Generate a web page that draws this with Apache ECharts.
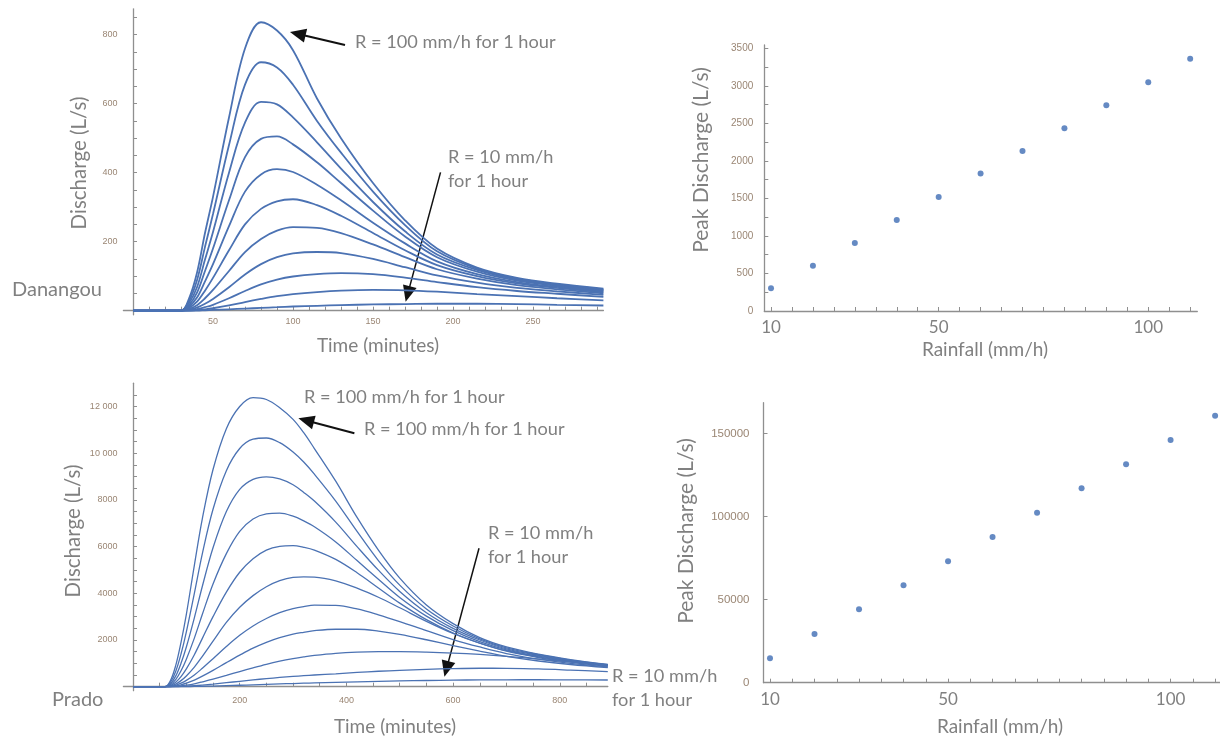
<!DOCTYPE html>
<html><head><meta charset="utf-8">
<script src="https://cdn.jsdelivr.net/npm/echarts@6/dist/echarts.min.js"></script>
<style>html,body{margin:0;padding:0;background:#fff}#c{width:1220px;height:736px}</style>
</head><body><div id="c"></div>
<script>
// ---------- DATA ----------
// Danangou hydrographs (time in minutes, discharge in L/s), largest event first
const TIME_DANANGOU = [0, 30, 35, 40, 45, 50, 60, 70, 80, 90, 100, 115, 130, 150, 170, 190, 215, 240, 265, 294];
const DANANGOU_C1  = [0, 0, 35, 110, 225, 330, 560, 760, 836, 812, 755, 615, 500, 370, 262, 180, 125, 95, 78, 64];
const DANANGOU_C2  = [0, 0, 28, 88, 185, 280, 480, 655, 720, 705, 655, 550, 458, 345, 248, 172, 122, 93, 76, 62];
const DANANGOU_C3  = [0, 0, 22, 68, 148, 228, 400, 545, 605, 598, 560, 488, 412, 315, 230, 163, 118, 90, 74, 60];
const DANANGOU_C4  = [0, 0, 16, 52, 115, 180, 320, 445, 498, 505, 482, 430, 370, 290, 215, 155, 113, 87, 72, 58];
const DANANGOU_C5  = [0, 0, 12, 38, 85, 135, 245, 345, 395, 410, 402, 365, 320, 255, 195, 143, 106, 83, 69, 56];
const DANANGOU_C6  = [0, 0, 8, 26, 58, 95, 175, 250, 295, 317, 323, 306, 275, 225, 175, 132, 100, 79, 66, 53];
const DANANGOU_C7  = [0, 0, 5, 16, 36, 60, 115, 170, 208, 232, 242, 240, 225, 192, 155, 120, 93, 74, 62, 50];
const DANANGOU_C8  = [0, 0, 3, 9, 20, 34, 68, 105, 135, 155, 166, 170, 167, 150, 126, 102, 81, 66, 56, 46];
const DANANGOU_C9  = [0, 0, 1, 4, 10, 17, 36, 57, 76, 90, 99, 106, 109, 106, 96, 83, 68, 57, 49, 40];
const DANANGOU_C10 = [0, 0, 0, 2, 4, 7, 15, 25, 34, 42, 48, 54, 58, 60, 59, 55, 48, 42, 36, 30];
const DANANGOU_C11 = [0, 0, 0, 0, 1, 2, 4, 6, 8, 10, 12, 14, 16, 18, 19, 20, 20, 19, 17, 15];

// Prado hydrographs
const TIME_PRADO = [0, 60, 70, 80, 90, 100, 115, 130, 150, 175, 200, 225, 250, 275, 300, 320, 340, 380, 420, 460, 500, 550, 600, 650, 700, 760, 820, 890];
const PRADO_C1  = [0, 0, 250, 900, 1900, 3100, 5200, 7200, 9300, 11050, 12000, 12380, 12300, 11950, 11450, 10880, 10200, 8800, 7250, 5850, 4650, 3500, 2700, 2100, 1700, 1390, 1160, 950];
const PRADO_C2  = [0, 0, 180, 650, 1400, 2350, 4000, 5700, 7600, 9250, 10200, 10600, 10650, 10450, 10050, 9620, 9100, 7950, 6650, 5400, 4350, 3330, 2600, 2050, 1660, 1370, 1140, 940];
const PRADO_C3  = [0, 0, 120, 450, 1000, 1700, 2950, 4300, 5950, 7500, 8450, 8880, 8990, 8900, 8650, 8320, 7950, 7050, 6000, 4990, 4080, 3170, 2500, 2000, 1620, 1340, 1120, 930];
const PRADO_C4  = [0, 0, 80, 300, 680, 1180, 2080, 3100, 4400, 5700, 6650, 7180, 7400, 7430, 7300, 7100, 6850, 6200, 5400, 4600, 3820, 3020, 2400, 1930, 1580, 1310, 1100, 910];
const PRADO_C5  = [0, 0, 50, 190, 430, 760, 1370, 2070, 3000, 4050, 4900, 5480, 5850, 6010, 6040, 5970, 5850, 5450, 4880, 4230, 3580, 2870, 2300, 1870, 1540, 1280, 1080, 900];
const PRADO_C6  = [0, 0, 30, 110, 260, 460, 840, 1300, 1950, 2750, 3400, 3900, 4280, 4540, 4680, 4700, 4690, 4530, 4220, 3830, 3380, 2800, 2280, 1860, 1520, 1250, 1050, 870];
const PRADO_C7  = [0, 0, 15, 60, 150, 270, 500, 790, 1200, 1720, 2200, 2600, 2920, 3170, 3340, 3430, 3490, 3480, 3330, 3080, 2790, 2400, 2020, 1700, 1420, 1180, 1000, 850];
const PRADO_C8  = [0, 0, 8, 30, 80, 150, 280, 450, 700, 1030, 1350, 1650, 1900, 2100, 2250, 2330, 2400, 2460, 2460, 2380, 2240, 2010, 1760, 1520, 1300, 1100, 950, 820];
const PRADO_C9  = [0, 0, 3, 12, 35, 65, 125, 205, 320, 480, 650, 810, 960, 1090, 1200, 1275, 1340, 1430, 1480, 1500, 1500, 1480, 1440, 1380, 1300, 1180, 1060, 930];
const PRADO_C10 = [0, 0, 1, 4, 10, 20, 40, 68, 110, 170, 230, 290, 345, 395, 440, 470, 500, 550, 610, 660, 700, 745, 775, 790, 785, 760, 710, 645];
const PRADO_C11 = [0, 0, 0, 1, 3, 5, 10, 17, 28, 45, 62, 80, 100, 118, 135, 148, 160, 185, 205, 225, 245, 265, 280, 290, 295, 296, 293, 287];

// Peak discharge vs rainfall
const RAINFALL = [10, 20, 30, 40, 50, 60, 70, 80, 90, 100, 110];
const PEAK_DANANGOU = [303, 604, 907, 1213, 1520, 1831, 2133, 2436, 2742, 3049, 3360];
const PEAK_PRADO = [14700, 29340, 44220, 58670, 73130, 87770, 102410, 117110, 131570, 146200, 160840];

// Tick labels
const DAN_TIME_LABELS = [50, 100, 150, 200, 250];
const DAN_Q_LABELS = [200, 400, 600, 800];
const PRADO_TIME_LABELS = [200, 400, 600, 800];
const PRADO_Q_LABELS = [2000, 4000, 6000, 8000, 10000, 12000];
const RAIN_LABELS = [10, 50, 100];
const PEAK_DAN_LABELS = [0, 500, 1000, 1500, 2000, 2500, 3000, 3500];
const PEAK_PRADO_LABELS = [0, 50000, 100000, 150000];

// Annotation arrows in data coordinates [tail, tip]
const ARROWS_DANANGOU = [[[132.5, 770], [98.1, 808]], [[192.2, 401], [170.4, 26]]];
const ARROWS_PRADO = [[[415, 10852], [310, 11495]], [[648.6, 5927], [583.7, 428]]];

// ---------- CHART ----------
function steps(a, b, s) { const r = []; for (let v = a; v <= b + 1e-9; v += s) r.push(+v.toFixed(6)); return r; }
function pairs(t, q) { return t.map((v, i) => [v, q[i]]); }

const LINE_COLOR = '#4b72b3';
const AXIS_COLOR = '#8f8f8f';
const TICK_LABEL_COLOR = '#9a8674';
const TITLE_COLOR = '#808080';
const FONT = 'Lato';

const danCurves = [DANANGOU_C1, DANANGOU_C2, DANANGOU_C3, DANANGOU_C4, DANANGOU_C5, DANANGOU_C6, DANANGOU_C7, DANANGOU_C8, DANANGOU_C9, DANANGOU_C10, DANANGOU_C11];
const pradoCurves = [PRADO_C1, PRADO_C2, PRADO_C3, PRADO_C4, PRADO_C5, PRADO_C6, PRADO_C7, PRADO_C8, PRADO_C9, PRADO_C10, PRADO_C11];

function valAxis(o) {
  return Object.assign({
    type: 'value', splitLine: { show: false },
    axisLine: { onZero: true, lineStyle: { color: AXIS_COLOR, width: 1.3 } },
    axisTick: { inside: true, length: 4, lineStyle: { color: AXIS_COLOR, width: 1 } },
    axisLabel: { color: TICK_LABEL_COLOR, fontSize: 9, fontFamily: 'Liberation Sans' }
  }, o);
}

const series = [];
danCurves.forEach((c, i) => series.push({
  name: 'Danangou event ' + (i + 1), type: 'line', xAxisIndex: 0, yAxisIndex: 0,
  data: pairs(TIME_DANANGOU, c), showSymbol: false, smooth: 0.35, silent: true,
  lineStyle: { color: LINE_COLOR, width: 1.8 }
}));
pradoCurves.forEach((c, i) => series.push({
  name: 'Prado event ' + (i + 1), type: 'line', xAxisIndex: 1, yAxisIndex: 1,
  data: pairs(TIME_PRADO, c), showSymbol: false, smooth: 0.35, silent: true,
  lineStyle: { color: LINE_COLOR, width: 1.3 }
}));
series.push({
  name: 'Danangou peak', type: 'scatter', xAxisIndex: 2, yAxisIndex: 2,
  data: pairs(RAINFALL, PEAK_DANANGOU), symbol: 'circle', symbolSize: 6,
  itemStyle: { color: '#3f6db4' }
});
series.push({
  name: 'Prado peak', type: 'scatter', xAxisIndex: 3, yAxisIndex: 3,
  data: pairs(RAINFALL, PEAK_PRADO), symbol: 'circle', symbolSize: 6,
  itemStyle: { color: '#3f6db4' }
});

const bigLabel = { color: TITLE_COLOR, fontSize: 17, fontFamily: FONT, margin: 8 };
const plain = v => String(v);

const option = {
  animation: false,
  backgroundColor: '#ffffff',
  grid: [
    { left: 123.4, top: 8.8, width: 480, height: 306 },
    { left: 123.4, top: 383.15, width: 484.4, height: 307.5 },
    { left: 764.3, top: 45, width: 433, height: 266 },
    { left: 763.5, top: 402.7, width: 456.5, height: 280 }
  ],
  xAxis: [
    valAxis({ gridIndex: 0, min: -6, max: 294,
      axisTick: { inside: true, length: 4, customValues: steps(10, 290, 10), lineStyle: { color: AXIS_COLOR } },
      axisLabel: { customValues: DAN_TIME_LABELS, color: TICK_LABEL_COLOR, fontSize: 9, fontFamily: 'Liberation Sans', margin: 2, formatter: plain } }),
    valAxis({ gridIndex: 1, min: -18, max: 890,
      axisTick: { inside: true, length: 4, customValues: steps(50, 850, 50), lineStyle: { color: AXIS_COLOR } },
      axisLabel: { customValues: PRADO_TIME_LABELS, color: TICK_LABEL_COLOR, fontSize: 9, fontFamily: 'Liberation Sans', margin: 5, formatter: plain } }),
    valAxis({ gridIndex: 2, min: 8.4, max: 111.7,
      axisTick: { inside: true, length: 4, customValues: steps(10, 110, 5), lineStyle: { color: AXIS_COLOR } },
      axisLabel: Object.assign({ customValues: RAIN_LABELS, formatter: plain }, bigLabel) }),
    valAxis({ gridIndex: 3, min: 8.54, max: 111.1,
      axisTick: { inside: true, length: 4, customValues: steps(10, 110, 5), lineStyle: { color: AXIS_COLOR } },
      axisLabel: Object.assign({ customValues: RAIN_LABELS, formatter: plain }, bigLabel) })
  ],
  yAxis: [
    valAxis({ gridIndex: 0, min: -12, max: 875,
      axisTick: { inside: true, length: 4, customValues: steps(50, 850, 50), lineStyle: { color: AXIS_COLOR } },
      axisLabel: { customValues: DAN_Q_LABELS, color: TICK_LABEL_COLOR, fontSize: 9, fontFamily: 'Liberation Sans', margin: 6, formatter: plain } }),
    valAxis({ gridIndex: 1, min: -170, max: 13000,
      axisTick: { inside: true, length: 4, customValues: steps(500, 12500, 500), lineStyle: { color: AXIS_COLOR } },
      axisLabel: { customValues: PRADO_Q_LABELS, color: TICK_LABEL_COLOR, fontSize: 9, fontFamily: 'Liberation Sans', margin: 6,
        formatter: v => v >= 10000 ? String(v).replace(/(\d{3})$/, ' $1') : String(v) } }),
    valAxis({ gridIndex: 2, min: 0, max: 3544,
      axisTick: { inside: true, length: 4, customValues: steps(0, 3500, 250), lineStyle: { color: AXIS_COLOR } },
      axisLabel: { customValues: PEAK_DAN_LABELS, color: TICK_LABEL_COLOR, fontSize: 10, fontFamily: 'Liberation Sans', margin: 11, formatter: plain } }),
    valAxis({ gridIndex: 3, min: 0, max: 168700,
      axisTick: { inside: true, length: 4, customValues: PEAK_PRADO_LABELS, lineStyle: { color: AXIS_COLOR } },
      axisLabel: { customValues: PEAK_PRADO_LABELS, color: TICK_LABEL_COLOR, fontSize: 11.5, fontFamily: 'Liberation Sans', margin: 14, formatter: plain } })
  ],
  series: series
};

const chart = echarts.init(document.getElementById('c'), null, { renderer: 'canvas' });
chart.setOption(option);

function txt(text, x, y, size, opts) {
  return {
    type: 'text', x: x, y: y, silent: true,
    style: Object.assign({ text: text, fill: TITLE_COLOR, font: size + 'px ' + FONT, textAlign: 'left', textVerticalAlign: 'middle' }, opts || {})
  };
}
function rot(text, x, y, size) {
  return { type: 'text', x: x, y: y, rotation: Math.PI / 2, silent: true,
    style: { text: text, fill: TITLE_COLOR, font: size + 'px ' + FONT, textAlign: 'center', textVerticalAlign: 'middle' } };
}
const texts = [
  rot('Discharge (L/s)', 79, 163, 20.5),
  rot('Discharge (L/s)', 73, 531, 20.5),
  rot('Peak Discharge (L/s)', 701, 160, 21),
  rot('Peak Discharge (L/s)', 686, 531, 21),
  txt('Time (minutes)', 378, 346, 19, { textAlign: 'center' }),
  txt('Time (minutes)', 395, 727, 19, { textAlign: 'center' }),
  txt('Rainfall (mm/h)', 985, 350, 19, { textAlign: 'center' }),
  txt('Rainfall (mm/h)', 1000, 727, 19, { textAlign: 'center' }),
  txt('Danangou', 12, 290, 20),
  txt('Prado', 52, 700, 20),
  txt('R = 100 mm/h for 1 hour', 355, 42, 18.2),
  txt('R = 10 mm/h', 448, 157, 18.2),
  txt('for 1 hour', 448, 181, 18.2),
  txt('R = 100 mm/h for 1 hour', 304, 397, 18.2),
  txt('R = 100 mm/h for 1 hour', 364, 429, 18.2),
  txt('R = 10 mm/h', 488, 533, 18.2),
  txt('for 1 hour', 488, 557, 18.2),
  txt('R = 10 mm/h', 612, 676, 18.2),
  txt('for 1 hour', 612, 700, 18.2)
];

function arrow(gridIndex, seg, w) {
  const p0 = chart.convertToPixel({ gridIndex: gridIndex }, seg[0]);
  const p1 = chart.convertToPixel({ gridIndex: gridIndex }, seg[1]);
  const dx = p1[0] - p0[0], dy = p1[1] - p0[1], L = Math.hypot(dx, dy), ux = dx / L, uy = dy / L;
  const hl = 16, hw = 7;
  const bx = p1[0] - ux * hl, by = p1[1] - uy * hl;
  return [
    { type: 'line', silent: true, shape: { x1: p0[0], y1: p0[1], x2: bx + ux * 2, y2: by + uy * 2 }, style: { stroke: '#111', lineWidth: w } },
    { type: 'polygon', silent: true, shape: { points: [[p1[0], p1[1]], [bx - uy * hw, by + ux * hw], [bx + uy * hw, by - ux * hw]] }, style: { fill: '#111' } }
  ];
}
let arrows = [];
arrows = arrows.concat(arrow(0, ARROWS_DANANGOU[0], 2), arrow(0, ARROWS_DANANGOU[1], 1.5));
arrows = arrows.concat(arrow(1, ARROWS_PRADO[0], 2), arrow(1, ARROWS_PRADO[1], 1.5));
chart.setOption({ graphic: texts.concat(arrows) });
</script>
</body></html>
